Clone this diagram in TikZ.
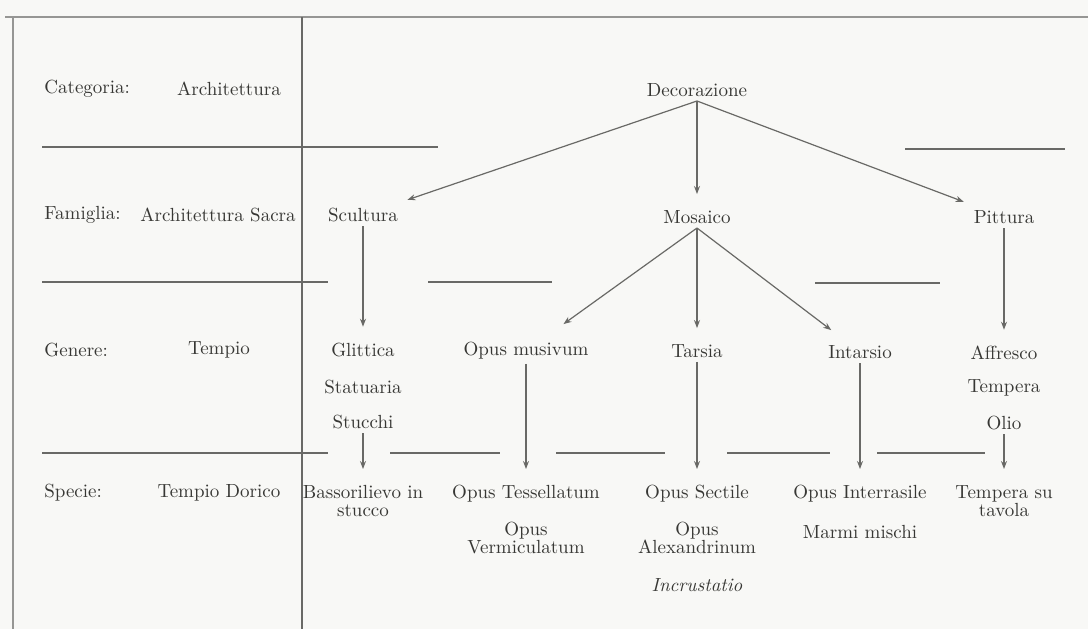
\documentclass[tikz,border=0pt]{standalone}
\usetikzlibrary{arrows.meta}

\definecolor{paper}{RGB}{248,248,246}
\definecolor{ink}{RGB}{55,55,52}
\definecolor{rulegray}{RGB}{105,105,102}

\begin{document}
\begin{tikzpicture}[
	x=0.5pt, y=-0.5pt,
	entry/.style={font=\fontsize{9.5}{11}\selectfont, text=ink, align=center, inner sep=2pt},
	rowname/.style={entry, anchor=west},
	link/.style={draw=rulegray, line width=0.6pt, -{Stealth[length=4pt, width=3pt]}, shorten >=6pt},
	sep/.style={draw=rulegray, line width=0.6pt},
]
	% Page and frame
	\fill[paper] (0,0) rectangle (1088,629);
	\useasboundingbox (0,0) rectangle (1088,629);
	\draw[sep, draw=rulegray!70] (5,17) -- (1088,17);
	\draw[sep, draw=rulegray!70] (13,17) -- (13,629);
	\draw[sep] (302,17) -- (302,629);

	% Separators between the rows
	\foreach \xa/\xb/\y in {42/438/147, 905/1065/149,
		42/328/282, 428/552/282, 815/940/283,
		42/328/453, 390/500/453, 556/665/453, 727/830/453, 877/985/453} {
		\draw[sep] (\xa,\y) -- (\xb,\y);
	}

	% Row names and the example column
	\foreach \name/\y/\txt in {cat/89/Categoria:, fam/215/Famiglia:, gen/350/Genere:, spe/493/Specie:} {
		\node[rowname] (\name) at (40,\y) {\txt};
	}
	\node[entry] (archi) at (229,89) {Architettura};
	\node[entry] (sacra) at (218,215) {Architettura Sacra};
	\node[entry] (tempio) at (219,350) {Tempio};
	\node[entry] (dorico) at (219,493) {Tempio Dorico};

	% Tree
	\node[entry] (deco) at (697,90) {Decorazione};
	\node[entry] (scult) at (363,215) {Scultura};
	\node[entry] (mos) at (697,217) {Mosaico};
	\node[entry] (pitt) at (1004,217) {Pittura};

	\node[entry] (glitt) at (363,350) {Glittica};
	\node[entry] (stat) at (363,387) {Statuaria};
	\node[entry] (stucchi) at (363,422) {Stucchi};
	\node[entry] (musiv) at (526,351) {Opus musivum};
	\node[entry] (tarsia) at (697,351) {Tarsia};
	\node[entry] (intars) at (860,352) {Intarsio};
	\node[entry] (affr) at (1004,353) {Affresco};
	\node[entry] (temp) at (1004,388) {Tempera};
	\node[entry] (olio) at (1004,423) {Olio};

	\node[entry, anchor=north] (bass) at (363,481) {Bassorilievo in\\[-2pt] stucco};
	\node[entry, anchor=north] (tess) at (526,481) {Opus Tessellatum};
	\node[entry, anchor=north] (verm) at (526,518) {Opus\\[-2pt] Vermiculatum};
	\node[entry, anchor=north] (sectile) at (697,481) {Opus Sectile};
	\node[entry, anchor=north] (alex) at (697,518) {Opus\\[-2pt] Alexandrinum};
	\node[entry] (incrust) at (697,585) {\textit{Incrustatio}};
	\node[entry, anchor=north] (interr) at (860,481) {Opus Interrasile};
	\node[entry] (marmi) at (860,532) {Marmi mischi};
	\node[entry, anchor=north] (tavola) at (1004,481) {Tempera su\\[-2pt] tavola};

	% Arrows
	\draw[link] (deco.south) -- (scult);
	\draw[link] (deco) -- (mos);
	\draw[link] (deco.south) -- (pitt);
	\draw[link, shorten >=12pt] (mos.south) -- (musiv);
	\draw[link] (mos) -- (tarsia);
	\draw[link, shorten >=9pt] (mos.south) -- (intars);
	\foreach \a/\b in {scult/glitt, stucchi/bass, musiv/tess, tarsia/sectile, intars/interr, pitt/affr, olio/tavola} {
		\draw[link] (\a) -- (\b);
	}
\end{tikzpicture}
\end{document}
